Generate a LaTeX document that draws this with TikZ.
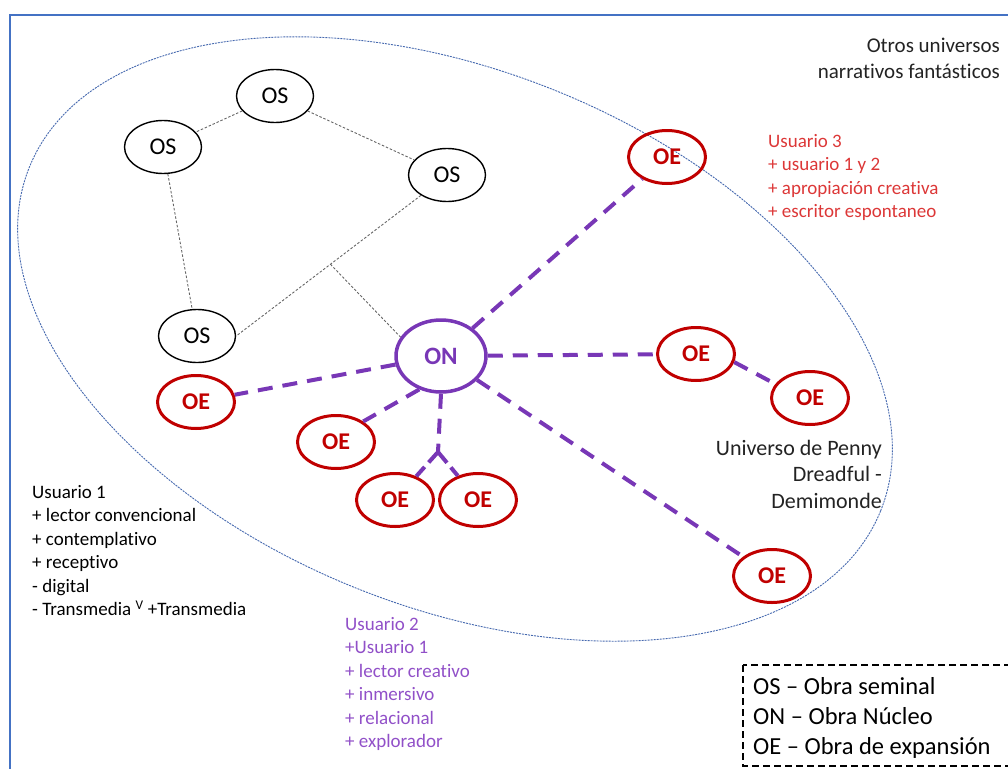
\documentclass[tikz,border=0pt]{standalone}
\usepackage{fontspec}
\setmainfont{Carlito}[Ligatures=NoCommon]
\usetikzlibrary{shapes.geometric,calc}

\definecolor{frameblue}{RGB}{68,114,196}
\definecolor{univblue}{RGB}{70,105,175}
\definecolor{nucleo}{RGB}{120,55,182}
\definecolor{expan}{RGB}{192,0,0}
\definecolor{uthree}{RGB}{220,55,55}
\definecolor{utwo}{RGB}{145,80,200}
\definecolor{darktext}{RGB}{35,35,35}

\begin{document}
\begin{tikzpicture}[x=1pt,y=-1pt,
  seminal/.style={ellipse,draw=black,line width=1.4pt,minimum width=77pt,
    minimum height=53pt,inner sep=0pt,font=\fontsize{24}{28}\selectfont},
  expansion/.style={ellipse,draw=expan,line width=3pt,minimum width=77pt,
    minimum height=53pt,inner sep=0pt,text=expan,font=\fontsize{24}{28}\selectfont\bfseries},
  core/.style={ellipse,draw=nucleo,line width=3.5pt,minimum width=90pt,
    minimum height=72pt,inner sep=0pt,text=nucleo,font=\fontsize{25}{29}\selectfont\bfseries},
  seedlink/.style={draw=black!60,line width=0.9pt,dash pattern=on 2.5pt off 1.8pt},
  growlink/.style={draw=nucleo,line width=4pt,dash pattern=on 15pt off 10pt},
  listtext/.style={inner sep=0pt,align=left,font=\fontsize{19}{23.5}\selectfont},
  bigtext/.style={inner sep=0pt,text=darktext,font=\fontsize{22}{26.5}\selectfont},
  legendbox/.style={draw=black,line width=2.4pt,dash pattern=on 7pt off 4pt},
]
\useasboundingbox (0,0) rectangle (1008,768);
\clip (0,0) rectangle (1008,768);

% outer frame
\draw[frameblue,line width=2pt] (10,15) rectangle (1040,800);

% the Penny Dreadful universe
\draw[univblue,line width=0.9pt,dash pattern=on 2pt off 1pt,
  rotate around={-22:(455,339)}] (455,339) ellipse [x radius=459pt,y radius=268pt];

% seminal works
\node[seminal] (os1) at (275,96) {OS};
\node[seminal] (os2) at (163,147) {OS};
\node[seminal] (os3) at (447,175) {OS};
\node[seminal] (os4) at (197,336) {OS};

% core work
\node[core] (on) at (441,356) {ON};

% expansion works
\node[expansion] (oe1) at (667,157) {OE};
\node[expansion] (oe2) at (696,354) {OE};
\node[expansion] (oe3) at (810,398) {OE};
\node[expansion] (oe4) at (196,402) {OE};
\node[expansion] (oe5) at (336,442) {OE};
\node[expansion] (oe6) at (395,500) {OE};
\node[expansion] (oe7) at (478,500) {OE};
\node[expansion] (oe8) at (772,576) {OE};

% links between seminal works
\draw[seedlink] (os1) -- (os2);
\draw[seedlink] (os1) -- (os3);
\draw[seedlink] (os2) -- (os4);
\draw[seedlink] (os3.218) -- (os4.east);
\coordinate (jn) at ($(os3.218)!0.49!(os4.east)$);
\draw[seedlink] (jn) -- (on.155);

% expansion links
\coordinate (fork) at (438,452);
\draw[growlink] (on) -- (oe1);
\draw[growlink] (on) -- (oe2);
\draw[growlink] (oe2.-12) -- (oe3.158);
\draw[growlink] (on) -- (oe4);
\draw[growlink] (on.237) -- (oe5.37);
\draw[growlink] (on) -- (oe8);
\draw[growlink] (on.south) -- (fork);
\draw[growlink,dash pattern=on 14pt off 6pt] (fork) -- (oe6);
\draw[growlink,dash pattern=on 14pt off 6pt] (fork) -- (oe7);

% labels
\node[bigtext,anchor=north east,align=right,font=\fontsize{21}{26}\selectfont] (otros) at (1000,38)
  {Otros universos\\narrativos fantásticos};
\node[bigtext,anchor=north east,align=right] (penny) at (882,440)
  {Universo de Penny\\Dreadful -\\Demimonde};

\node[listtext,anchor=north west,text=black] (user1) at (32,485)
  {Usuario 1\\+ lector convencional\\+ contemplativo\\+ receptivo\\- digital\\- Transmedia \textsuperscript{V} +Transmedia};
\node[listtext,anchor=north west,text=utwo] (user2) at (345,617)
  {Usuario 2\\+Usuario 1\\+ lector creativo\\+ inmersivo\\+ relacional\\+ explorador};
\node[listtext,anchor=north west,text=uthree] (user3) at (768,134)
  {Usuario 3\\+ usuario 1 y 2\\+ apropiación creativa\\+ escritor espontaneo};

% legend
\draw[legendbox] (743,665) rectangle (1040,766);
\node[inner sep=0pt,anchor=north west,align=left,font=\fontsize{24.5}{30}\selectfont] (legend) at (753,677)
  {OS – Obra seminal\\ON – Obra Núcleo\\OE – Obra de expansión};
\end{tikzpicture}
\end{document}
